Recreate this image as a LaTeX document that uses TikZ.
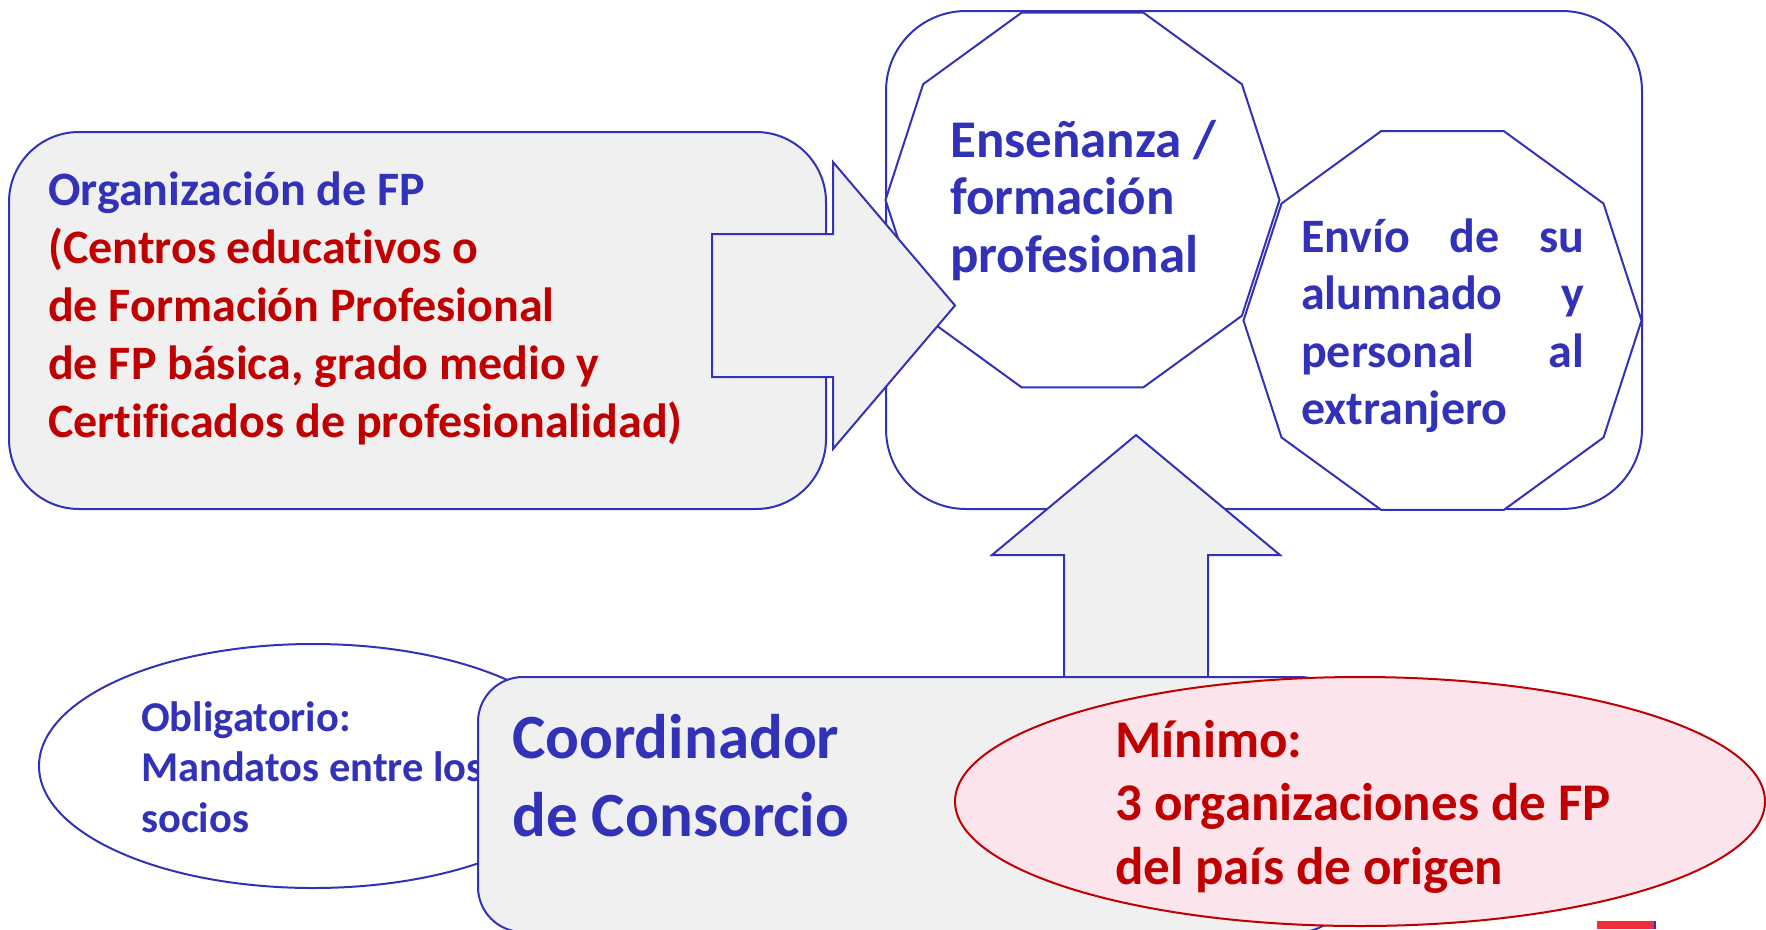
\documentclass[tikz,border=0pt]{standalone}
\usepackage{fontspec}
\setmainfont{Carlito}[Ligatures=NoCommon]
\usetikzlibrary{shapes.geometric}
\definecolor{bl}{RGB}{50,50,185}
\definecolor{rd}{RGB}{192,0,0}
\definecolor{gr}{RGB}{240,240,240}
\definecolor{pk}{RGB}{252,228,236}
\definecolor{mk}{RGB}{238,48,60}
\tikzset{
  outl/.style={draw=bl, line width=2pt},
  greybox/.style={outl, fill=gr, rectangle, inner sep=0pt},
  deca/.style={outl, fill=white, regular polygon, regular polygon sides=10, inner sep=0pt},
  blockarrow/.style={outl, fill=gr, line join=miter},
  txt/.style={inner sep=0pt, anchor=base west, align=left},
}
\begin{document}
\begin{tikzpicture}[x=1pt,y=-1pt]
\useasboundingbox (0,0) rectangle (1766,929);
% group frame
\node[outl, fill=white, rectangle, rounded corners=80pt, minimum width=756pt, minimum height=498pt, inner sep=0pt] (grp) at (1264,260) {};
% decagons
\node[deca, minimum size=394pt] (ens) at (1082.5,200) {};
\node[deca, minimum size=398pt] (env) at (1442.5,320.5) {};
% left box
\node[greybox, rounded corners=70pt, minimum width=817pt, minimum height=377pt] (org) at (417.5,320.5) {};
% right block arrow
\coordinate (ra1) at (712,234);
\coordinate (ra2) at (833,234);
\coordinate (ra3) at (833,162);
\coordinate (ratip) at (955,305.5);
\coordinate (ra5) at (833,449);
\coordinate (ra6) at (833,377);
\coordinate (ra7) at (712,377);
\draw[blockarrow] (ra1) -- (ra2) -- (ra3) -- (ratip) -- (ra5) -- (ra6) -- (ra7) -- cycle;
% up block arrow
\coordinate (ua1) at (1064,677);
\coordinate (ua2) at (1064,555);
\coordinate (ua3) at (992,555);
\coordinate (uatip) at (1136,435);
\coordinate (ua5) at (1280,555);
\coordinate (ua6) at (1208,555);
\coordinate (ua7) at (1208,677);
\draw[blockarrow] (ua1) -- (ua2) -- (ua3) -- (uatip) -- (ua5) -- (ua6) -- (ua7) -- cycle;
% obligatorio ellipse
\node[outl, fill=white, ellipse, inner sep=0pt, minimum width=548pt, minimum height=244pt] (obl) at (313,766) {};
\node[txt, text=bl, font=\bfseries\fontsize{42.5}{50.5}\selectfont] (obltxt) at (141,832) {Obligatorio:\\Mandatos entre los\\socios};
% coordinador box
\node[greybox, rounded corners=45pt, minimum width=867pt, minimum height=255pt] (coord) at (911.5,804.5) {};
% red ellipse
\node[draw=rd, line width=2pt, fill=pk, ellipse, inner sep=0pt, minimum width=810pt, minimum height=249pt] (minimo) at (1360,801.5) {};
% red fragment at bottom
\fill[mk] (1597,921) rectangle (1655,929);
\draw[bl, line width=2pt] (1655,921) -- (1655,929);
% texts
\node[txt, font=\bfseries\fontsize{48}{58}\selectfont] (orgtxt) at (48,437)
  {\textcolor{bl}{Organización de FP}\\
   \textcolor{rd}{(Centros educativos o}\\
   \textcolor{rd}{de Formación Profesional}\\
   \textcolor{rd}{de FP básica, grado medio y}\\
   \textcolor{rd}{Certificados de profesionalidad)}};
\node[txt, text=bl, font=\bfseries\fontsize{53}{57.5}\selectfont] (enstxt) at (950,272) {Enseñanza /\\formación\\profesional};
\node[txt, text=bl, font=\bfseries\fontsize{48}{57.5}\selectfont] (envtxt) at (1301,424.5)
  {\makebox[283pt][s]{Envío de su}\\\makebox[283pt][s]{alumnado y}\\\makebox[283pt][s]{personal al}\\extranjero};
\node[txt, text=bl, font=\bfseries\fontsize{63}{78}\selectfont] (coordtxt) at (512,836) {Coordinador\\de Consorcio};
\node[txt, text=rd, font=\bfseries\fontsize{53}{63.5}\selectfont] (mintxt) at (1115,884) {Mínimo:\\3 organizaciones de FP\\del país de origen};
\end{tikzpicture}
\end{document}
